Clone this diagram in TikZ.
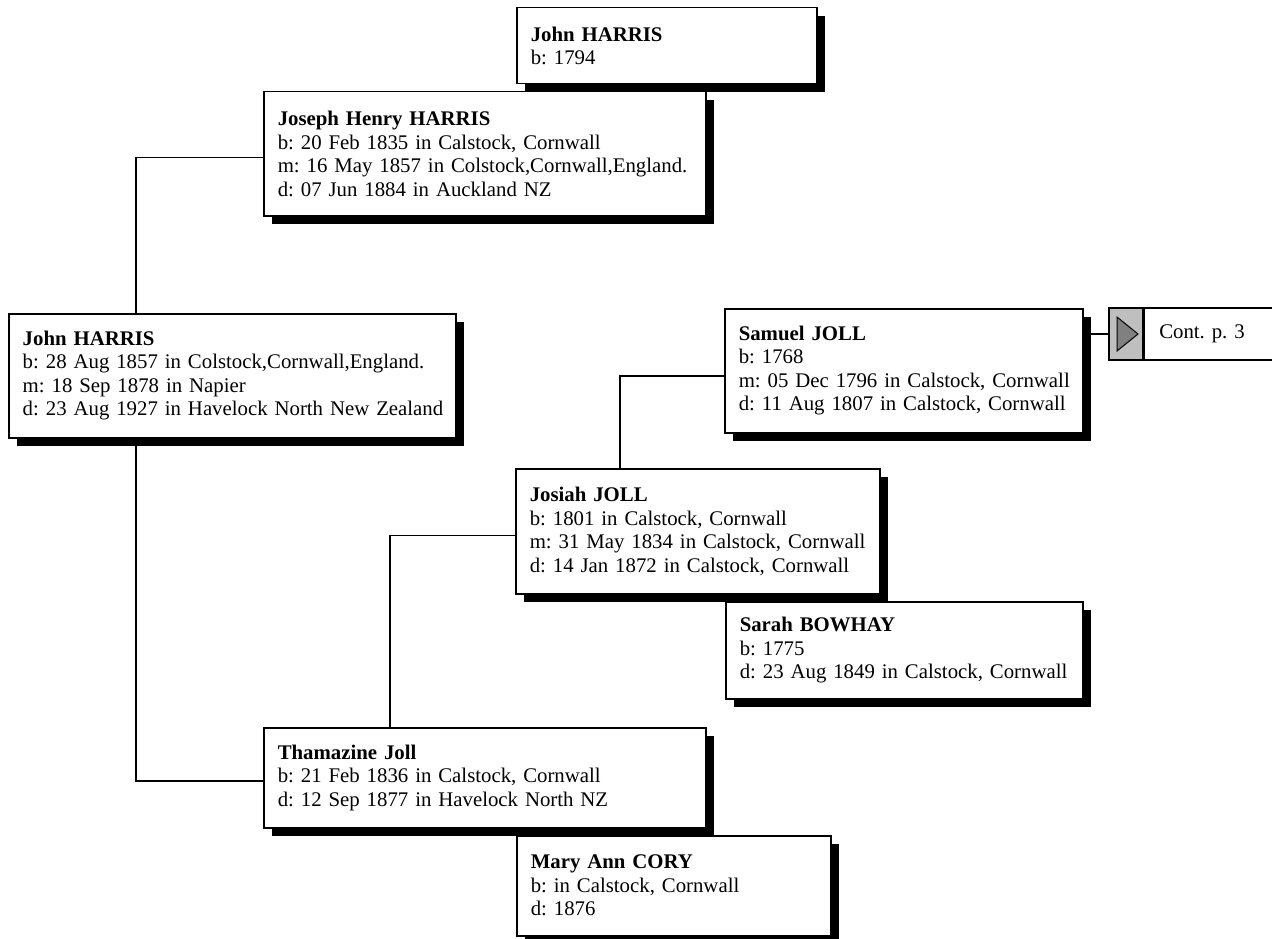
\documentclass[tikz,border=0pt]{standalone}
\usepackage{fontspec}
\setmainfont{Liberation Serif}
\frenchspacing
\usetikzlibrary{positioning,shadows}

\begin{document}
\begin{tikzpicture}[x=1pt,y=-1pt,
    person/.style={draw,line width=1.5pt,fill=white,anchor=north west,
      inner xsep=0pt,inner ysep=2pt,font=\fontsize{20.8}{23.5}\selectfont,
      execute at begin node={\parindent=0pt\leftskip=14pt\rightskip=0pt plus 1fil},
      drop shadow={shadow xshift=8pt,shadow yshift=-8pt,fill=black,opacity=1}},
    link/.style={line width=1.5pt}]
    \useasboundingbox (0,0) rectangle (1272,939);
    \clip (0,0) rectangle (1272,939);

    \node[person,text width=300pt,minimum height=76pt]  (johnsr)  at (516,7)   {\textbf{John HARRIS}\\b: 1794};
    \node[person,text width=442pt,minimum height=124pt] (joseph)  at (263,91)  {\textbf{Joseph Henry HARRIS}\\b: 20 Feb 1835 in Calstock, Cornwall\\m: 16 May 1857 in Colstock,Cornwall,England.\\d: 07 Jun 1884 in Auckland NZ};
    \node[person,text width=447pt,minimum height=124pt] (john)    at (8,313)   {\textbf{John HARRIS}\\b: 28 Aug 1857 in Colstock,Cornwall,England.\\m: 18 Sep 1878 in Napier\\d: 23 Aug 1927 in Havelock North New Zealand};
    \node[person,text width=358pt,minimum height=124pt] (samuel)  at (724,308) {\textbf{Samuel JOLL}\\b: 1768\\m: 05 Dec 1796 in Calstock, Cornwall\\d: 11 Aug 1807 in Calstock, Cornwall};
    \node[person,text width=364pt,minimum height=125pt] (josiah)  at (515,468) {\textbf{Josiah JOLL}\\b: 1801 in Calstock, Cornwall\\m: 31 May 1834 in Calstock, Cornwall\\d: 14 Jan 1872 in Calstock, Cornwall};
    \node[person,text width=357pt,minimum height=97pt]  (sarah)   at (725,601) {\textbf{Sarah BOWHAY}\\b: 1775\\d: 23 Aug 1849 in Calstock, Cornwall};
    \node[person,text width=442pt,minimum height=100pt] (thamazine) at (263,727) {\textbf{Thamazine Joll}\\b: 21 Feb 1836 in Calstock, Cornwall\\d: 12 Sep 1877 in Havelock North NZ};
    \node[person,text width=314pt,minimum height=100pt] (mary)    at (516,835) {\textbf{Mary Ann CORY}\\b: in Calstock, Cornwall\\d: 1876};

    % continuation marker
    \node[draw,line width=1.5pt,fill=black!25,anchor=north west,inner sep=0pt,
          minimum width=34pt,minimum height=52pt] (contbtn) at (1108,307) {};
    \node[draw,line width=1.5pt,fill=white,anchor=west,minimum height=52pt,text width=150pt,
          inner xsep=15pt,font=\fontsize{20.8}{23.5}\selectfont] (cont) at (contbtn.east) {Cont. p. 3};
    \draw[line width=1pt,fill=black!50] (1117,317) -- (1138,334) -- (1117,351) -- cycle;

    \draw[link] ([xshift=128pt]john.north west) |- ([yshift=-4pt]joseph.west);
    \draw[link] ([xshift=128pt]john.south west) |- ([yshift=-3pt]thamazine.west);
    \draw[link] ([xshift=127pt]thamazine.north west) |- ([yshift=-4pt]josiah.west);
    \draw[link] ([xshift=105pt]josiah.north west) |- ([yshift=-5pt]samuel.west);
    \draw[link] (contbtn.west) -- (contbtn.west -| samuel.east);
\end{tikzpicture}
\end{document}
